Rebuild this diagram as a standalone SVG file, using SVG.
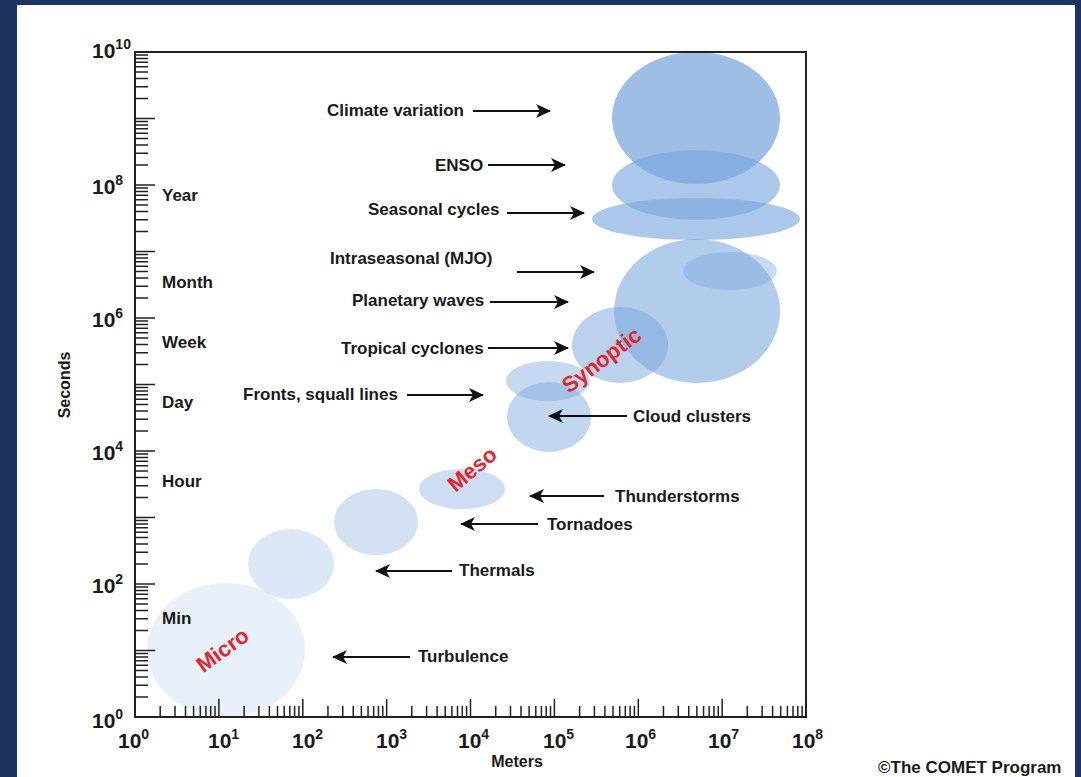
<svg xmlns="http://www.w3.org/2000/svg" xmlns:xlink="http://www.w3.org/1999/xlink" width="1081" height="777" viewBox="0 0 1081 777">
<style>
  text { font-family: "Liberation Sans", Arial, sans-serif; font-weight: bold; fill: #1a1a1a; }
  .lbl { font-size: 17px; }
  .tick { font-size: 21px; }
  .sup { font-size: 14px; }
  .red { font-size: 22px; fill: #e3262d; }
  .blob { fill: rgb(120,165,220); }
  .ax { stroke: #222; stroke-width: 2; fill: none; }
  .tk { stroke: #222; stroke-width: 1.5; fill: none; }
  .arr { stroke: #111; stroke-width: 2; fill: none; marker-end: url(#ah); }
</style>
<defs>
  <marker id="ah" markerUnits="userSpaceOnUse" markerWidth="16" markerHeight="14" refX="14" refY="7" orient="auto">
    <path d="M0 0 L15 7 L0 14 L4 7 Z" fill="#111"/>
  </marker>
  <path id="xdec" d="M25.2 0v-11M40 0v-11M50.5 0v-11M58.6 0v-11M65.3 0v-11M70.9 0v-11M75.7 0v-11M80 0v-11M83.9 0v-18"/>
  <path id="ydec" d="M0 -20h13M0 -31.7h13M0 -40h13M0 -46.5h13M0 -51.7h13M0 -56.2h13M0 -60.1h13M0 -63.4h13M0 -66.5h20"/>
</defs>
<rect x="0" y="0" width="1081" height="777" fill="#1d3461"/>
<rect x="17" y="5" width="1058" height="772" fill="#ffffff"/>

<g id="micro"><ellipse class="blob" cx="226" cy="650" rx="79" ry="67" fill-opacity="0.17"/></g>
<g id="thermals"><ellipse class="blob" cx="291" cy="564" rx="43" ry="35" fill-opacity="0.26"/></g>
<g id="tornadoes"><ellipse class="blob" cx="376" cy="522" rx="42" ry="33" fill-opacity="0.33"/></g>
<g id="thunderstorms"><ellipse class="blob" cx="462" cy="489" rx="43" ry="20" fill-opacity="0.37"/></g>
<g id="fronts"><ellipse class="blob" cx="548" cy="381" rx="42" ry="20" fill-opacity="0.42"/></g>
<g id="cloud-clusters"><ellipse class="blob" cx="549" cy="417" rx="42" ry="35" fill-opacity="0.45"/></g>
<g id="planetary-waves"><ellipse class="blob" cx="697" cy="311" rx="83" ry="72" fill-opacity="0.57"/></g>
<g id="intraseasonal"><ellipse class="blob" cx="730" cy="271" rx="47" ry="19" fill-opacity="0.4"/></g>
<g id="tropical-cyclones"><ellipse class="blob" cx="620" cy="345" rx="48" ry="38" fill-opacity="0.5"/></g>
<g id="climate-variation"><ellipse class="blob" cx="696" cy="118" rx="84" ry="66" fill-opacity="0.72"/></g>
<g id="enso"><ellipse class="blob" cx="696" cy="185" rx="84" ry="35" fill-opacity="0.62"/></g>
<g id="seasonal-cycles"><ellipse class="blob" cx="696" cy="219" rx="104" ry="21" fill-opacity="0.62"/></g>

<g id="axes">
  <rect class="ax" x="135" y="52" width="671" height="665"/>
  <g class="tk">
    <use xlink:href="#xdec" x="135" y="717"/>
    <use xlink:href="#xdec" x="218.9" y="717"/>
    <use xlink:href="#xdec" x="302.75" y="717"/>
    <use xlink:href="#xdec" x="386.6" y="717"/>
    <use xlink:href="#xdec" x="470.5" y="717"/>
    <use xlink:href="#xdec" x="554.4" y="717"/>
    <use xlink:href="#xdec" x="638.25" y="717"/>
    <use xlink:href="#xdec" x="722.1" y="717"/>
    <use xlink:href="#ydec" x="135" y="717"/>
    <use xlink:href="#ydec" x="135" y="650.5"/>
    <use xlink:href="#ydec" x="135" y="584"/>
    <use xlink:href="#ydec" x="135" y="517.5"/>
    <use xlink:href="#ydec" x="135" y="451"/>
    <use xlink:href="#ydec" x="135" y="384.5"/>
    <use xlink:href="#ydec" x="135" y="318"/>
    <use xlink:href="#ydec" x="135" y="251.5"/>
    <use xlink:href="#ydec" x="135" y="185"/>
    <use xlink:href="#ydec" x="135" y="118.5"/>
  </g>
  <text class="tick" x="118" y="748">10<tspan class="sup" dy="-9">0</tspan></text>
  <text class="tick" x="208" y="748">10<tspan class="sup" dy="-9">1</tspan></text>
  <text class="tick" x="292" y="748">10<tspan class="sup" dy="-9">2</tspan></text>
  <text class="tick" x="376" y="748">10<tspan class="sup" dy="-9">3</tspan></text>
  <text class="tick" x="458" y="748">10<tspan class="sup" dy="-9">4</tspan></text>
  <text class="tick" x="543" y="748">10<tspan class="sup" dy="-9">5</tspan></text>
  <text class="tick" x="625" y="748">10<tspan class="sup" dy="-9">6</tspan></text>
  <text class="tick" x="708" y="748">10<tspan class="sup" dy="-9">7</tspan></text>
  <text class="tick" x="792" y="748">10<tspan class="sup" dy="-9">8</tspan></text>
  <text class="tick" x="92" y="58">10<tspan class="sup" dy="-9">10</tspan></text>
  <text class="tick" x="92" y="194">10<tspan class="sup" dy="-9">8</tspan></text>
  <text class="tick" x="92" y="327">10<tspan class="sup" dy="-9">6</tspan></text>
  <text class="tick" x="92" y="460">10<tspan class="sup" dy="-9">4</tspan></text>
  <text class="tick" x="92" y="593">10<tspan class="sup" dy="-9">2</tspan></text>
  <text class="tick" x="92" y="728">10<tspan class="sup" dy="-9">0</tspan></text>
  <text class="lbl" x="162" y="201">Year</text>
  <text class="lbl" x="162" y="288">Month</text>
  <text class="lbl" x="162" y="348">Week</text>
  <text class="lbl" x="162" y="408">Day</text>
  <text class="lbl" x="162" y="487">Hour</text>
  <text class="lbl" x="162" y="624">Min</text>
  <text style="font-size:16px" x="517" y="767" text-anchor="middle">Meters</text>
  <text style="font-size:16px" transform="translate(70 385) rotate(-90)" text-anchor="middle">Seconds</text>
</g>

<g id="scale-labels">
  <text class="red" text-anchor="middle" transform="translate(227 656) rotate(-36)">Micro</text>
  <text class="red" text-anchor="middle" transform="translate(477 475) rotate(-40)">Meso</text>
  <text class="red" text-anchor="middle" transform="translate(606 366) rotate(-37)">Synoptic</text>
</g>

<g id="labels">
  <text class="lbl" x="327" y="116">Climate variation</text>
  <text class="lbl" x="435" y="171">ENSO</text>
  <text class="lbl" x="368" y="215">Seasonal cycles</text>
  <text class="lbl" x="330" y="264">Intraseasonal (MJO)</text>
  <text class="lbl" x="352" y="306">Planetary waves</text>
  <text class="lbl" x="341" y="354">Tropical cyclones</text>
  <text class="lbl" x="243" y="400">Fronts, squall lines</text>
  <text class="lbl" x="633" y="422">Cloud clusters</text>
  <text class="lbl" x="615" y="502">Thunderstorms</text>
  <text class="lbl" x="547" y="530">Tornadoes</text>
  <text class="lbl" x="459" y="576">Thermals</text>
  <text class="lbl" x="418" y="662">Turbulence</text>
</g>

<g id="connectors">
  <path class="arr" d="M473 111H550"/>
  <path class="arr" d="M488 165H565"/>
  <path class="arr" d="M507 213H584"/>
  <path class="arr" d="M517 272H594"/>
  <path class="arr" d="M490 302H568"/>
  <path class="arr" d="M488 348H568"/>
  <path class="arr" d="M407 395H483"/>
  <path class="arr" d="M627 416H549"/>
  <path class="arr" d="M604 496H530"/>
  <path class="arr" d="M538 524H461"/>
  <path class="arr" d="M452 571H376"/>
  <path class="arr" d="M410 657H333"/>
</g>

<text style="font-size:17px" x="878" y="773">©The COMET Program</text>
</svg>
